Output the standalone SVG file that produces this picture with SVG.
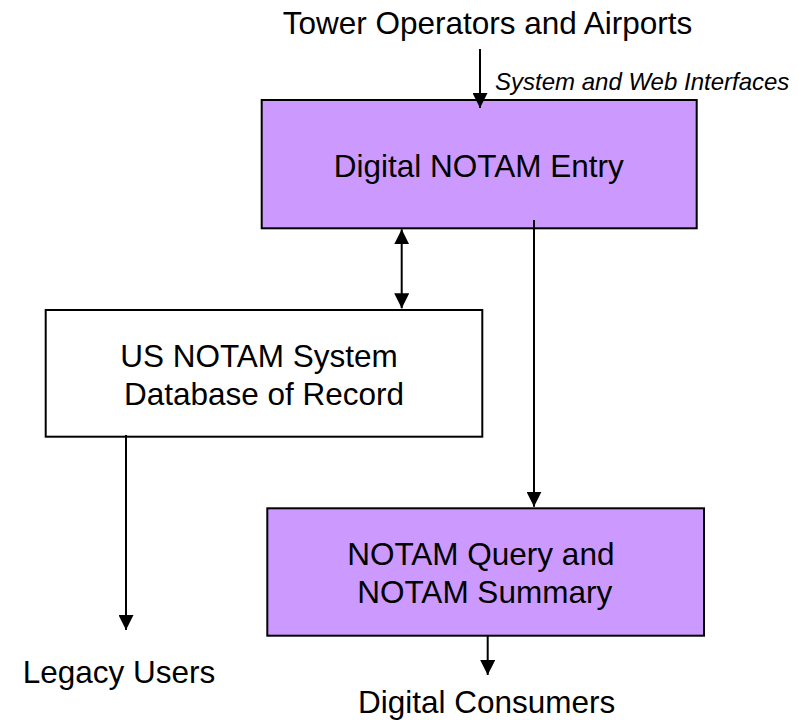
<svg xmlns="http://www.w3.org/2000/svg" width="804" height="720" viewBox="0 0 804 720">
<style>
.box{stroke:#000;stroke-width:2}
.purple{fill:#CC99FF}
.white{fill:#FFFFFF}
.t{font-family:"Liberation Sans",Arial,sans-serif;font-size:31.5px;fill:#000;text-anchor:middle}
.it{font-family:"Liberation Sans",Arial,sans-serif;font-size:24px;font-style:italic;fill:#000}
.c{stroke:#000;stroke-width:2;fill:none}
</style>
<defs>
<marker id="ah" viewBox="0 0 15 15" markerWidth="15" markerHeight="15" refX="15" refY="7.5" orient="auto-start-reverse" markerUnits="userSpaceOnUse">
<path d="M0,0 L15,7.5 L0,15 z" fill="#000"/>
</marker>
</defs>
<rect width="804" height="720" fill="#FFFFFF"/>
<g id="tower">
<text class="t" x="487.5" y="34">Tower Operators and Airports</text>
</g>
<g id="entry">
<rect class="box purple" x="261.7" y="100" width="435" height="128.3"/>
<text class="t" x="478.8" y="176.7">Digital NOTAM Entry</text>
</g>
<g id="usns">
<rect class="box white" x="45.7" y="310" width="436.6" height="126.7"/>
<text class="t" x="259" y="366.7">US NOTAM System</text>
<text class="t" x="264" y="405">Database of Record</text>
</g>
<g id="query">
<rect class="box purple" x="267.3" y="508.3" width="436.7" height="127.4"/>
<text class="t" x="480.8" y="565">NOTAM Query and</text>
<text class="t" x="484.7" y="603.3">NOTAM Summary</text>
</g>
<g id="legacy">
<text class="t" x="119" y="683">Legacy Users</text>
</g>
<g id="consumers">
<text class="t" x="486.7" y="712.7">Digital Consumers</text>
</g>
<g id="connectors">
<line class="c" x1="480" y1="49" x2="480" y2="108" marker-end="url(#ah)"/>
<text class="it" x="495" y="90">System and Web Interfaces</text>
<line class="c" x1="401.7" y1="229.3" x2="401.7" y2="308.3" marker-start="url(#ah)" marker-end="url(#ah)"/>
<line class="c" x1="534" y1="220" x2="534" y2="506.7" marker-end="url(#ah)"/>
<line class="c" x1="126" y1="435" x2="126" y2="630" marker-end="url(#ah)"/>
<line class="c" x1="487.7" y1="635" x2="487.7" y2="675" marker-end="url(#ah)"/>
</g>
</svg>
